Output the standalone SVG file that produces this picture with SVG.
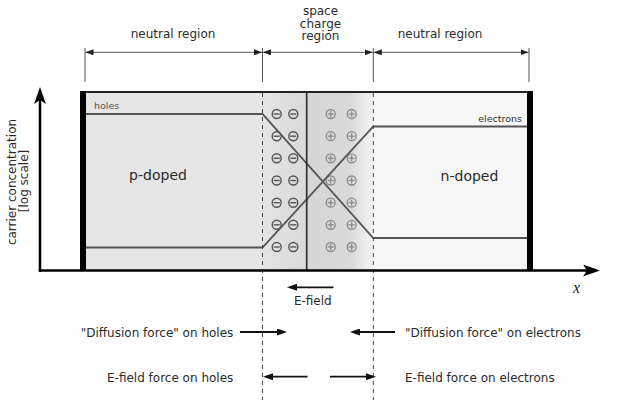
<svg xmlns="http://www.w3.org/2000/svg" xmlns:xlink="http://www.w3.org/1999/xlink" width="627" height="400" viewBox="0 0 627 400">
<style>
  text { font-family: "DejaVu Sans", "Liberation Sans", sans-serif; fill: #2b2b2b; }
  .lbl { font-size: 12px; }
  .big { font-size: 14px; }
  .small { font-size: 9.5px; }
  .dim { stroke: #555; stroke-width: 1; fill: none; }
  .ext { stroke: #555; stroke-width: 1; }
  .dash { stroke: #444; stroke-width: 1; stroke-dasharray: 4 4; }
  .curve { stroke: #555; stroke-width: 1.8; fill: none; }
  .force { stroke: #111; stroke-width: 1.8; fill: none; }
  .axis { stroke: #000; stroke-width: 2.5; fill: none; }
  .minus { stroke: #555; stroke-width: 1.4; fill: none; }
  .plus { stroke: #8a8a8a; stroke-width: 1.3; fill: none; }
</style>
<defs>
  <marker id="dimhead" markerUnits="userSpaceOnUse" markerWidth="8" markerHeight="6" viewBox="0 0 8 6" refX="8" refY="3" orient="auto-start-reverse">
    <path d="M0,0 L8,3 L0,6 z" fill="#222"/>
  </marker>
  <marker id="forcehead" markerUnits="userSpaceOnUse" markerWidth="10" markerHeight="7" viewBox="0 0 10 7" refX="7" refY="3.5" orient="auto">
    <path d="M0,0 L10,3.5 L0,7 z" fill="#111"/>
  </marker>
  <marker id="axishead" markerUnits="userSpaceOnUse" markerWidth="17" markerHeight="12" viewBox="0 0 17 12" refX="7" refY="6" orient="auto">
    <path d="M0,0 L17,6 L0,12 L4,6 z" fill="#000"/>
  </marker>
  <linearGradient id="gradL" x1="0" y1="0" x2="1" y2="0">
    <stop offset="0" stop-color="#e4e4e4"/>
    <stop offset="1" stop-color="#d9d9d9"/>
  </linearGradient>
  <linearGradient id="gradR" x1="0" y1="0" x2="1" y2="0">
    <stop offset="0" stop-color="#d6d6d6"/>
    <stop offset="0.65" stop-color="#d9d9d9"/>
    <stop offset="1" stop-color="#f5f5f5"/>
  </linearGradient>
  <g id="m"><circle r="4.5" class="minus"/><line x1="-3" y1="0" x2="3" y2="0" class="minus"/></g>
  <g id="p"><circle r="4.5" class="plus"/><line x1="-3" y1="0" x2="3" y2="0" class="plus"/><line x1="0" y1="-3" x2="0" y2="3" class="plus"/></g>
</defs>

<g id="regions">
  <rect x="86" y="92" width="176.5" height="178" fill="#e6e6e6"/>
  <rect x="262.5" y="92" width="44.2" height="178" fill="url(#gradL)"/>
  <rect x="306.7" y="92" width="66.6" height="178" fill="url(#gradR)"/>
  <rect x="373.3" y="92" width="154" height="178" fill="#f7f7f7"/>
</g>

<g id="charges">
  <use xlink:href="#m" x="276.7" y="114"/><use xlink:href="#m" x="293.3" y="114"/>
  <use xlink:href="#m" x="276.7" y="136.2"/><use xlink:href="#m" x="293.3" y="136.2"/>
  <use xlink:href="#m" x="276.7" y="158.3"/><use xlink:href="#m" x="293.3" y="158.3"/>
  <use xlink:href="#m" x="276.7" y="180.5"/><use xlink:href="#m" x="293.3" y="180.5"/>
  <use xlink:href="#m" x="276.7" y="202.7"/><use xlink:href="#m" x="293.3" y="202.7"/>
  <use xlink:href="#m" x="276.7" y="224.8"/><use xlink:href="#m" x="293.3" y="224.8"/>
  <use xlink:href="#m" x="276.7" y="247"/><use xlink:href="#m" x="293.3" y="247"/>
  <use xlink:href="#p" x="330.7" y="114"/><use xlink:href="#p" x="351.7" y="114"/>
  <use xlink:href="#p" x="330.7" y="136.2"/><use xlink:href="#p" x="351.7" y="136.2"/>
  <use xlink:href="#p" x="330.7" y="158.3"/><use xlink:href="#p" x="351.7" y="158.3"/>
  <use xlink:href="#p" x="330.7" y="180.5"/><use xlink:href="#p" x="351.7" y="180.5"/>
  <use xlink:href="#p" x="330.7" y="202.7"/><use xlink:href="#p" x="351.7" y="202.7"/>
  <use xlink:href="#p" x="330.7" y="224.8"/><use xlink:href="#p" x="351.7" y="224.8"/>
  <use xlink:href="#p" x="330.7" y="247"/><use xlink:href="#p" x="351.7" y="247"/>
</g>

<g id="curves">
  <polyline class="curve" points="86,114 262.5,114 373.3,238 527,238"/>
  <polyline class="curve" points="86,247.5 262.5,247.5 373.3,126.5 527,126.5"/>
</g>

<g id="box">
  <line x1="80" y1="92" x2="533" y2="92" stroke="#222" stroke-width="2"/>
  <line x1="306.7" y1="92" x2="306.7" y2="270" stroke="#2a2a2a" stroke-width="1.6"/>
  <rect x="80" y="91" width="6" height="180" fill="#000"/>
  <rect x="527" y="91" width="6" height="180" fill="#000"/>
</g>

<g id="connectors">
  <line class="dash" x1="262.5" y1="93" x2="262.5" y2="400"/>
  <line class="dash" x1="373.3" y1="93" x2="373.3" y2="400"/>
  <line class="ext" x1="85" y1="48" x2="85" y2="82"/>
  <line class="ext" x1="262.5" y1="48" x2="262.5" y2="82"/>
  <line class="ext" x1="373.3" y1="48" x2="373.3" y2="82"/>
  <line class="ext" x1="529" y1="48" x2="529" y2="82"/>
  <line class="dim" x1="85.5" y1="52.3" x2="262" y2="52.3" marker-start="url(#dimhead)" marker-end="url(#dimhead)"/>
  <line class="dim" x1="263" y1="52.3" x2="372.8" y2="52.3" marker-start="url(#dimhead)" marker-end="url(#dimhead)"/>
  <line class="dim" x1="373.8" y1="52.3" x2="528.5" y2="52.3" marker-start="url(#dimhead)" marker-end="url(#dimhead)"/>
  <line class="axis" x1="38.75" y1="270.5" x2="590" y2="270.5" marker-end="url(#axishead)"/>
  <line class="axis" x1="40" y1="271.75" x2="40" y2="97" marker-end="url(#axishead)"/>
  <line class="force" x1="333.5" y1="287.3" x2="290" y2="287.3" marker-end="url(#forcehead)"/>
  <line class="force" x1="240" y1="332" x2="284" y2="332" marker-end="url(#forcehead)"/>
  <line class="force" x1="395" y1="332" x2="353" y2="332" marker-end="url(#forcehead)"/>
  <line class="force" x1="307.5" y1="376.7" x2="266" y2="376.7" marker-end="url(#forcehead)"/>
  <line class="force" x1="330" y1="376.7" x2="373" y2="376.7" marker-end="url(#forcehead)"/>
</g>

<g id="labels">
  <text class="lbl" x="173" y="38" text-anchor="middle">neutral region</text>
  <text class="lbl" x="440" y="38" text-anchor="middle">neutral region</text>
  <text class="lbl" x="320.5" y="15.3" text-anchor="middle">space</text>
  <text class="lbl" x="320.5" y="27.5" text-anchor="middle">charge</text>
  <text class="lbl" x="320.5" y="39.7" text-anchor="middle">region</text>
  <text class="small" x="94" y="108.5" style="fill:#555">holes</text>
  <text class="small" x="522" y="122" text-anchor="end" style="fill:#333">electrons</text>
  <text class="big" x="158" y="180" text-anchor="middle">p-doped</text>
  <text class="big" x="469.5" y="180.5" text-anchor="middle">n-doped</text>
  <text class="lbl" transform="translate(16,182) rotate(-90)" text-anchor="middle">carrier concentration</text>
  <text class="lbl" transform="translate(28,181) rotate(-90)" text-anchor="middle">[log scale]</text>
  <text x="573" y="292.7" style="font-family:'Liberation Serif','DejaVu Serif',serif;font-style:italic;font-size:16px;fill:#222">x</text>
  <text class="lbl" x="312.8" y="305" text-anchor="middle">E-field</text>
  <text class="lbl" x="233.3" y="336.5" text-anchor="end">"Diffusion force" on holes</text>
  <text class="lbl" x="405" y="336.5">"Diffusion force" on electrons</text>
  <text class="lbl" x="233.3" y="381.5" text-anchor="end">E-field force on holes</text>
  <text class="lbl" x="405" y="381.5">E-field force on electrons</text>
</g>
</svg>
